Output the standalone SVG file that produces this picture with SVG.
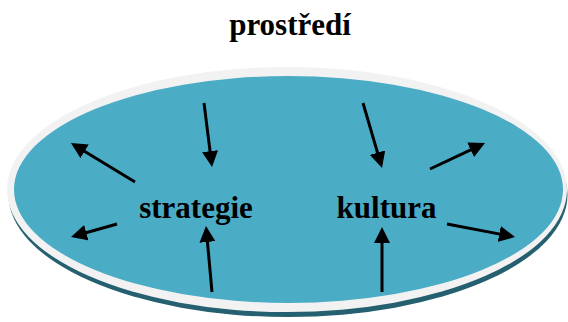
<svg xmlns="http://www.w3.org/2000/svg" width="568" height="322" viewBox="0 0 568 322">
<style>
.lbl{font-family:"Liberation Serif","DejaVu Serif",serif;font-weight:bold;font-size:31px;fill:#000;text-anchor:middle}
.arr{stroke:#000;stroke-width:3;fill:none;marker-end:url(#ah)}
</style>
<defs>
<marker id="ah" markerUnits="userSpaceOnUse" markerWidth="16" markerHeight="16" refX="6" refY="8" orient="auto">
<path d="M0,0 L16,8 L0,16 z" fill="#000"/>
</marker>
</defs>
<rect width="568" height="322" fill="#fff"/>
<g id="prostredi">
<ellipse cx="288" cy="194.5" rx="279.5" ry="122.5" fill="#24606f"/>
<ellipse cx="287" cy="189.5" rx="280" ry="122.5" fill="#f2f2f2"/>
<ellipse cx="288.5" cy="189.5" rx="274.5" ry="113.5" fill="#4bacc6"/>
<text class="lbl" x="290" y="35" font-family="Liberation Serif, serif">prostředí</text>
</g>
<g id="strategie"><text class="lbl" x="196" y="218" font-family="Liberation Serif, serif">strategie</text></g>
<g id="kultura"><text class="lbl" x="386.5" y="218" font-family="Liberation Serif, serif">kultura</text></g>
<g id="connectors">
<line class="arr" x1="135" y1="182" x2="79.5" y2="148.2"/>
<line class="arr" x1="117" y1="224" x2="80.6" y2="234.3"/>
<line class="arr" x1="204" y1="103" x2="210.8" y2="157.1"/>
<line class="arr" x1="212" y1="292" x2="206.9" y2="236"/>
<line class="arr" x1="363" y1="103" x2="379.2" y2="158.4"/>
<line class="arr" x1="382" y1="292" x2="382" y2="237"/>
<line class="arr" x1="430" y1="169" x2="476" y2="147.3"/>
<line class="arr" x1="447" y1="224" x2="505.2" y2="235.1"/>
</g>
</svg>
